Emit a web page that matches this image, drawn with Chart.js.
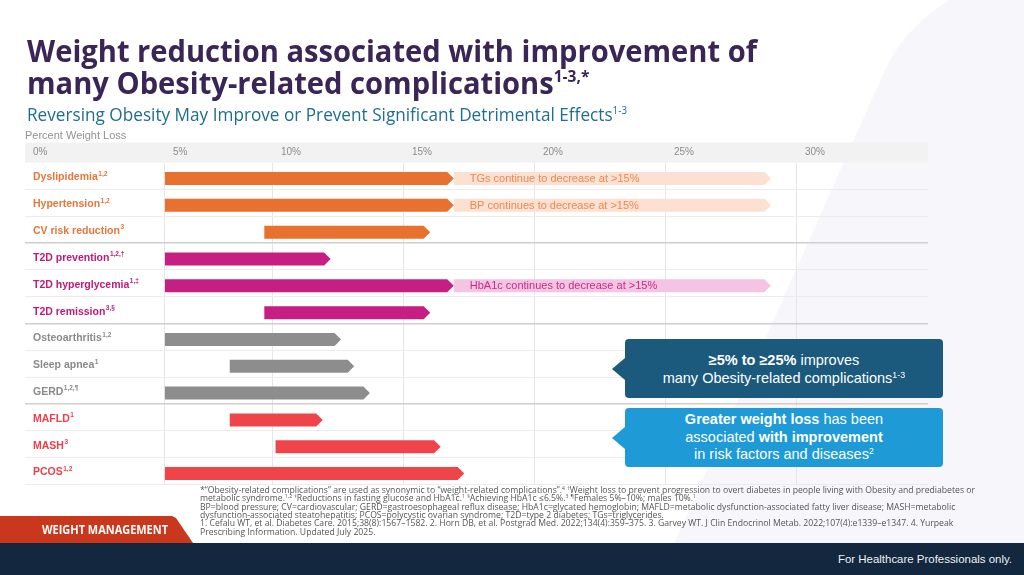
<!DOCTYPE html>
<html>
<head>
<meta charset="utf-8">
<script src="https://cdn.jsdelivr.net/npm/chart.js@4/dist/chart.umd.min.js"></script>
<style>
  html, body { margin: 0; padding: 0; }
  body { width: 1024px; height: 575px; position: relative; overflow: hidden; background: #fff;
         font-family: "Liberation Sans", Arial, sans-serif; }
  #bgShape { position: absolute; left: 925px; top: -20px; width: 420px; height: 700px; background: #f7f6fa;
             border-radius: 90px; transform: skewX(-24deg); transform-origin: 0 0; }
  #chart { position: absolute; left: 0; top: 0; }
  .fit { position: absolute; white-space: nowrap; transform-origin: 0 0; }
  .title { left: 27px; color: #3a2557; font-family: "Open Sans", sans-serif; font-weight: 700; font-size: 30px; line-height: 32px; }
  .title sup { font-size: 16px; position: relative; top: -12px; vertical-align: 0; line-height: 0; }
  #subtitle { left: 27px; top: 103px; color: #1e6e8f; font-family: "Open Sans", sans-serif; font-size: 17.5px; line-height: 22px; }
  #subtitle sup { font-size: 10px; position: relative; top: -7px; vertical-align: 0; line-height: 0; }
  .callout { position: absolute; left: 625px; width: 318px; height: 59px; border-radius: 4px; color: #fff;
             display: flex; flex-direction: column; justify-content: center; align-items: center;
             font-size: 14.5px; line-height: 18px; text-align: center; }
  .callout::before { content: ""; position: absolute; left: -13px; top: 50%; margin-top: -11px;
                     border-style: solid; border-width: 11px 13px 11px 0; border-color: transparent; }
  .callout sup { font-size: 9px; position: relative; top: -5px; vertical-align: 0; line-height: 0; }
  #boxA { top: 339px; background: #1b5a7d; }
  #boxA::before { border-right-color: #1b5a7d; }
  #boxB { top: 408px; background: #1e9ad6; line-height: 17.5px; }
  #boxB::before { border-right-color: #1e9ad6; }
  #notes { left: 200px; top: 486px; color: #555; font-family: "Open Sans", sans-serif; font-size: 8.6px; line-height: 8.35px; }
  #notes sup { font-size: 5px; position: relative; top: -3px; vertical-align: 0; line-height: 0; }
  #tag { position: absolute; left: 0; top: 516px; width: 193px; height: 27px; background: #c9381c;
         clip-path: polygon(0 0, 172px 0, 176px 2px, 193px 27px, 0 27px); }
  #tagText { left: 42px; top: 523px; color: #fff; font-family: "Open Sans", sans-serif; font-weight: 700; font-size: 11.5px; line-height: 14px; }
  #footer { position: absolute; left: 0; top: 543px; width: 1024px; height: 32px; background: #13283f; }
  #hcp { left: 838px; top: 553px; color: #eef0f3; font-size: 10.5px; line-height: 12px; }
</style>
</head>
<body>
<div id="bgShape"></div>
<canvas id="chart" width="1024" height="575"></canvas>

<div class="fit title" id="title1" style="top:35px">Weight reduction associated with improvement of</div>
<div class="fit title" id="title2" style="top:67px">many Obesity-related complications<sup>1-3,*</sup></div>
<div class="fit" id="subtitle">Reversing Obesity May Improve or Prevent Significant Detrimental Effects<sup>1-3</sup></div>

<div class="callout" id="boxA">
  <div><b>≥5% to ≥25%</b> improves</div>
  <div>many Obesity-related complications<sup>1-3</sup></div>
</div>
<div class="callout" id="boxB">
  <div><b>Greater weight loss</b> has been</div>
  <div>associated <b>with improvement</b></div>
  <div>in risk factors and diseases<sup>2</sup></div>
</div>

<div class="fit" id="notes">
  <div id="note1">*“Obesity-related complications” are used as synonymic to “weight-related complications”.<sup>4</sup> <sup>†</sup>Weight loss to prevent progression to overt diabetes in people living with Obesity and prediabetes or</div>
  <div>metabolic syndrome.<sup>1,2</sup> <sup>‡</sup>Reductions in fasting glucose and HbA1c.<sup>1</sup> <sup>§</sup>Achieving HbA1c ≤6.5%.<sup>3</sup> <sup>¶</sup>Females 5%–10%; males 10%.<sup>1</sup></div>
  <div>BP=blood pressure; CV=cardiovascular; GERD=gastroesophageal reflux disease; HbA1c=glycated hemoglobin; MAFLD=metabolic dysfunction-associated fatty liver disease; MASH=metabolic</div>
  <div>dysfunction-associated steatohepatitis; PCOS=polycystic ovarian syndrome; T2D=type 2 diabetes; TGs=triglycerides.</div>
  <div>1. Cefalu WT, et al. Diabetes Care. 2015;38(8):1567–1582. 2. Horn DB, et al. Postgrad Med. 2022;134(4):359–375. 3. Garvey WT. J Clin Endocrinol Metab. 2022;107(4):e1339–e1347. 4. Yurpeak</div>
  <div>Prescribing Information. Updated July 2025.</div>
</div>

<div id="tag"></div>
<div class="fit" id="tagText">WEIGHT MANAGEMENT</div>
<div id="footer"></div>
<div class="fit" id="hcp">For Healthcare Professionals only.</div>

<script>
// rows of the table, top to bottom
const categories = ["Dyslipidemia", "Hypertension", "CV risk reduction", "T2D prevention", "T2D hyperglycemia",
  "T2D remission", "Osteoarthritis", "Sleep apnea", "GERD", "MAFLD", "MASH", "PCOS"];
const citations = ["1,2", "1,2", "3", "1,2,†", "1,‡", "3,§", "1,2", "1", "1,2,¶", "1", "3", "1,2"];
const groups = [0, 0, 0, 1, 1, 1, 2, 2, 2, 3, 3, 3];

// percent weight loss range for each complication
const lossFrom = [5, 5, 9.6, 5, 5, 9.6, 5, 8, 5, 8, 10.1, 5];
const lossTo = [16.9, 16.9, 16, 12.2, 16.9, 16, 12.6, 13.1, 13.7, 11.9, 16.4, 17.3];

// "continues to decrease" extensions
const beyondFrom = [16.9, 16.9, null, null, 16.9, null, null, null, null, null, null, null];
const beyondTo = [29, 29, null, null, 29, null, null, null, null, null, null, null];
const beyondNotes = ["TGs continue to decrease at >15%", "BP continues to decrease at >15%", "", "",
  "HbA1c continues to decrease at >15%", "", "", "", "", "", "", ""];

const tickLabels = ["0%", "5%", "10%", "15%", "20%", "25%", "30%"];

// colours per group: lipids/BP, diabetes, mechanical, liver/other
const barColors = ["#e8712f", "#c71e84", "#8d8d8d", "#f0444b"];
const paleColors = ["#fce0d1", "#f5c4e2", "#e6e6e6", "#fbd0d2"];
const labelColors = ["#e5773a", "#c0197a", "#8a8a8a", "#ee3f48"];
const noteColors = ["#e98a56", "#c42c8c", "#888", "#ee3f48"];

// the slide's axis is not evenly spaced: 0-5% holds the labels, 5-10% is narrower
const AXIS_BREAKS = [0, 5, 10, 35];
const AXIS_SHARES = [0, 0.155, 0.2746, 1];

class BrokenScale extends Chart.LinearScale {
  static id = "broken";
  static defaults = {};
  getPixelForValue(value) {
    if (value === null || isNaN(value)) return NaN;
    let i = 1;
    while (i < AXIS_BREAKS.length - 1 && value > AXIS_BREAKS[i]) i++;
    const v0 = AXIS_BREAKS[i - 1], v1 = AXIS_BREAKS[i];
    const f = AXIS_SHARES[i - 1] + (value - v0) / (v1 - v0) * (AXIS_SHARES[i] - AXIS_SHARES[i - 1]);
    return this.getPixelForDecimal(f);
  }
  getValueForPixel(pixel) {
    const f = this.getDecimalForPixel(pixel);
    let i = 1;
    while (i < AXIS_SHARES.length - 1 && f > AXIS_SHARES[i]) i++;
    const s0 = AXIS_SHARES[i - 1], s1 = AXIS_SHARES[i];
    return AXIS_BREAKS[i - 1] + (f - s0) / (s1 - s0) * (AXIS_BREAKS[i] - AXIS_BREAKS[i - 1]);
  }
}
Chart.register(BrokenScale);

const FONT = '"Liberation Sans", Arial, sans-serif';
Chart.defaults.font.family = FONT;

// grey header strip behind the % ticks
const headerBand = {
  id: "headerBand",
  beforeDraw(chart) {
    const { ctx, chartArea } = chart;
    ctx.save();
    ctx.fillStyle = "#f2f2f2";
    ctx.fillRect(chartArea.left, chartArea.top - 20, chartArea.right - chartArea.left, 20);
    ctx.restore();
  }
};

// bars are drawn as arrows (pointed right end)
const arrowBars = {
  id: "arrowBars",
  beforeDatasetDraw(chart, args) {
    const ctx = chart.ctx;
    ctx.save();
    args.meta.data.forEach((el, i) => {
      const raw = chart.data.datasets[args.index].data[i];
      if (raw === null || raw === undefined) return;
      const left = Math.min(el.base, el.x), right = Math.max(el.base, el.x);
      const cy = el.y + 2.5, h = el.height;
      const tip = 6.5;
      ctx.fillStyle = el.options.backgroundColor;
      ctx.beginPath();
      ctx.moveTo(left, cy - h / 2);
      ctx.lineTo(right - tip, cy - h / 2);
      ctx.lineTo(right, cy);
      ctx.lineTo(right - tip, cy + h / 2);
      ctx.lineTo(left, cy + h / 2);
      ctx.closePath();
      ctx.fill();
      if (args.index === 1 && beyondNotes[i]) {
        ctx.fillStyle = noteColors[groups[i]];
        ctx.font = "11px " + FONT;
        ctx.textBaseline = "middle";
        ctx.textAlign = "left";
        ctx.fillText(beyondNotes[i], left + 16, cy + 0.5);
      }
    });
    ctx.restore();
    return false;
  }
};

// row labels with superscript references
const rowLabels = {
  id: "rowLabels",
  afterDraw(chart) {
    const ctx = chart.ctx;
    const ys = chart.scales.y;
    ctx.save();
    ctx.textBaseline = "middle";
    ctx.textAlign = "left";
    categories.forEach((name, i) => {
      const y = ys.getPixelForValue(i) + 1.5;
      const x = chart.chartArea.left + 8;
      ctx.fillStyle = labelColors[groups[i]];
      ctx.font = "bold 10.5px " + FONT;
      ctx.fillText(name, x, y);
      const w = ctx.measureText(name).width;
      ctx.font = "bold 6.5px " + FONT;
      ctx.fillText(citations[i], x + w + 0.5, y - 3.5);
    });
    ctx.restore();
  }
};

new Chart(document.getElementById("chart"), {
  type: "bar",
  data: {
    labels: categories,
    datasets: [
      {
        label: "Weight loss range",
        data: lossFrom.map((v, i) => [v, lossTo[i]]),
        backgroundColor: groups.map(g => barColors[g]),
        grouped: false,
        barThickness: 13
      },
      {
        label: "Continued improvement",
        data: beyondFrom.map((v, i) => v === null ? null : [v, beyondTo[i]]),
        backgroundColor: groups.map(g => paleColors[g]),
        grouped: false,
        barThickness: 13
      }
    ]
  },
  options: {
    indexAxis: "y",
    responsive: false,
    animation: false,
    layout: { padding: { left: 25, right: 96, top: 120.4, bottom: 90.5 } },
    plugins: { legend: { display: false }, tooltip: { enabled: false } },
    scales: {
      x: {
        type: "broken",
        position: "top",
        min: 0,
        max: 35,
        border: { display: false },
        grid: {
          drawTicks: false,
          color: c => (c.tick && (c.tick.value === 0 || c.tick.value === 35)) ? "rgba(0,0,0,0)" : "#e6e6e6"
        },
        ticks: {
          stepSize: 5,
          autoSkip: false,
          maxRotation: 0,
          align: "start",
          labelOffset: 8,
          padding: 4,
          color: "#8c8c8c",
          font: { size: 10 },
          callback: (v, i) => tickLabels[i] || ""
        },
        title: {
          display: true,
          text: "Percent Weight Loss",
          align: "start",
          color: "#929292",
          font: { size: 11 },
          padding: { top: 9, bottom: 0 }
        }
      },
      y: {
        border: { display: false },
        ticks: { display: false },
        grid: {
          offset: true,
          drawTicks: false,
          color: c => [3, 6, 9].includes(c.index) ? "#cfcfcf" : (c.index === 0 || c.index === categories.length) ? "rgba(0,0,0,0)" : "#ececec",
          lineWidth: c => [3, 6, 9].includes(c.index) ? 1.5 : 1
        }
      }
    }
  },
  plugins: [headerBand, arrowBars, rowLabels]
});

// squeeze the slide's condensed text lines to the widths they have on the slide
function fitTo(el, width) {
  el.style.transform = "none";
  const s = width / el.getBoundingClientRect().width;
  el.style.transform = "scaleX(" + s + ")";
  return s;
}
const t1 = document.getElementById("title1");
const ts = fitTo(t1, 730);
document.getElementById("title2").style.transform = "scaleX(" + ts + ")";
fitTo(document.getElementById("subtitle"), 600);
const notes = document.getElementById("notes");
const n1 = document.getElementById("note1");
notes.style.transform = "none";
notes.style.transform = "scaleX(" + (775 / n1.getBoundingClientRect().width) + ")";
fitTo(document.getElementById("tagText"), 126);
fitTo(document.getElementById("hcp"), 174);
</script>
</body>
</html>
